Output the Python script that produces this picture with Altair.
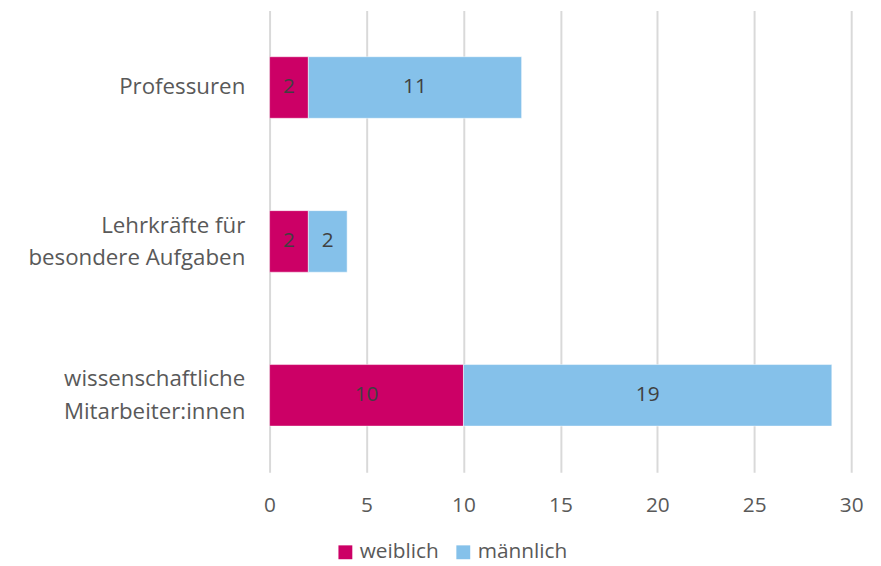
import altair as alt
import pandas as pd

categories = ["Professuren", "Lehrkräfte für|besondere Aufgaben", "wissenschaftliche|Mitarbeiter:innen"]
weiblich = [2, 2, 10]
maennlich = [11, 2, 19]
series = ["weiblich", "männlich"]
colors = ["#CC0066", "#85C1EA"]

rows = []
for c, w, m in zip(categories, weiblich, maennlich):
    rows.append({"cat": c, "series": "weiblich", "order": 0, "value": w, "start": 0, "end": w})
    rows.append({"cat": c, "series": "männlich", "order": 1, "value": m, "start": w, "end": w + m})
df = pd.DataFrame(rows)
df["mid"] = (df["start"] + df["end"]) / 2

FONT = "Open Sans"
TXT = "#595959"

y = alt.Y("cat:N", sort=categories, title=None,
          scale=alt.Scale(paddingInner=0.6, paddingOuter=0.3),
          axis=alt.Axis(labelExpr="split(datum.label, '|')", labelFontSize=22.5, labelFont=FONT,
                        labelColor=TXT, labelLineHeight=33, labelPadding=25, ticks=False,
                        labelOffset=alt.condition("indexof(datum.value, '|') >= 0", alt.value(-16), alt.value(0)),
                        domain=False, labelLimit=300))

bars = alt.Chart(df).mark_bar(stroke="white", strokeWidth=0.5).encode(
    x=alt.X("start:Q", title=None,
            scale=alt.Scale(domain=[0, 30], nice=False),
            axis=alt.Axis(values=[0, 5, 10, 15, 20, 25, 30], labelFontSize=21, labelFont=FONT,
                          labelColor=TXT, labelPadding=23, ticks=False, domain=False,
                          labelFlush=False,
                          grid=True, gridColor="#D9D9D9", gridWidth=2)),
    x2="end:Q",
    y=y,
    color=alt.Color("series:N", scale=alt.Scale(domain=series, range=colors), title=None,
                    legend=alt.Legend(orient="none", legendX=66, legendY=536, direction="horizontal",
                                      symbolType="square", symbolSize=196, symbolStrokeWidth=0,
                                      labelFontSize=21, labelFont=FONT, labelColor=TXT,
                                      columnPadding=14, labelOffset=4)),
)

labels = alt.Chart(df).mark_text(fontSize=21, font=FONT, color="#404040").encode(
    x="mid:Q",
    y=alt.Y("cat:N", sort=categories),
    text="value:Q",
)

chart = (bars + labels).properties(
    width=587, height=466,
    autosize="none",
    padding={"left": 264, "top": 0, "right": 22, "bottom": 92},
).configure_view(stroke=None).configure_axisY(grid=False)

chart.save("out.html", embed_options={"renderer": "svg", "actions": False})
